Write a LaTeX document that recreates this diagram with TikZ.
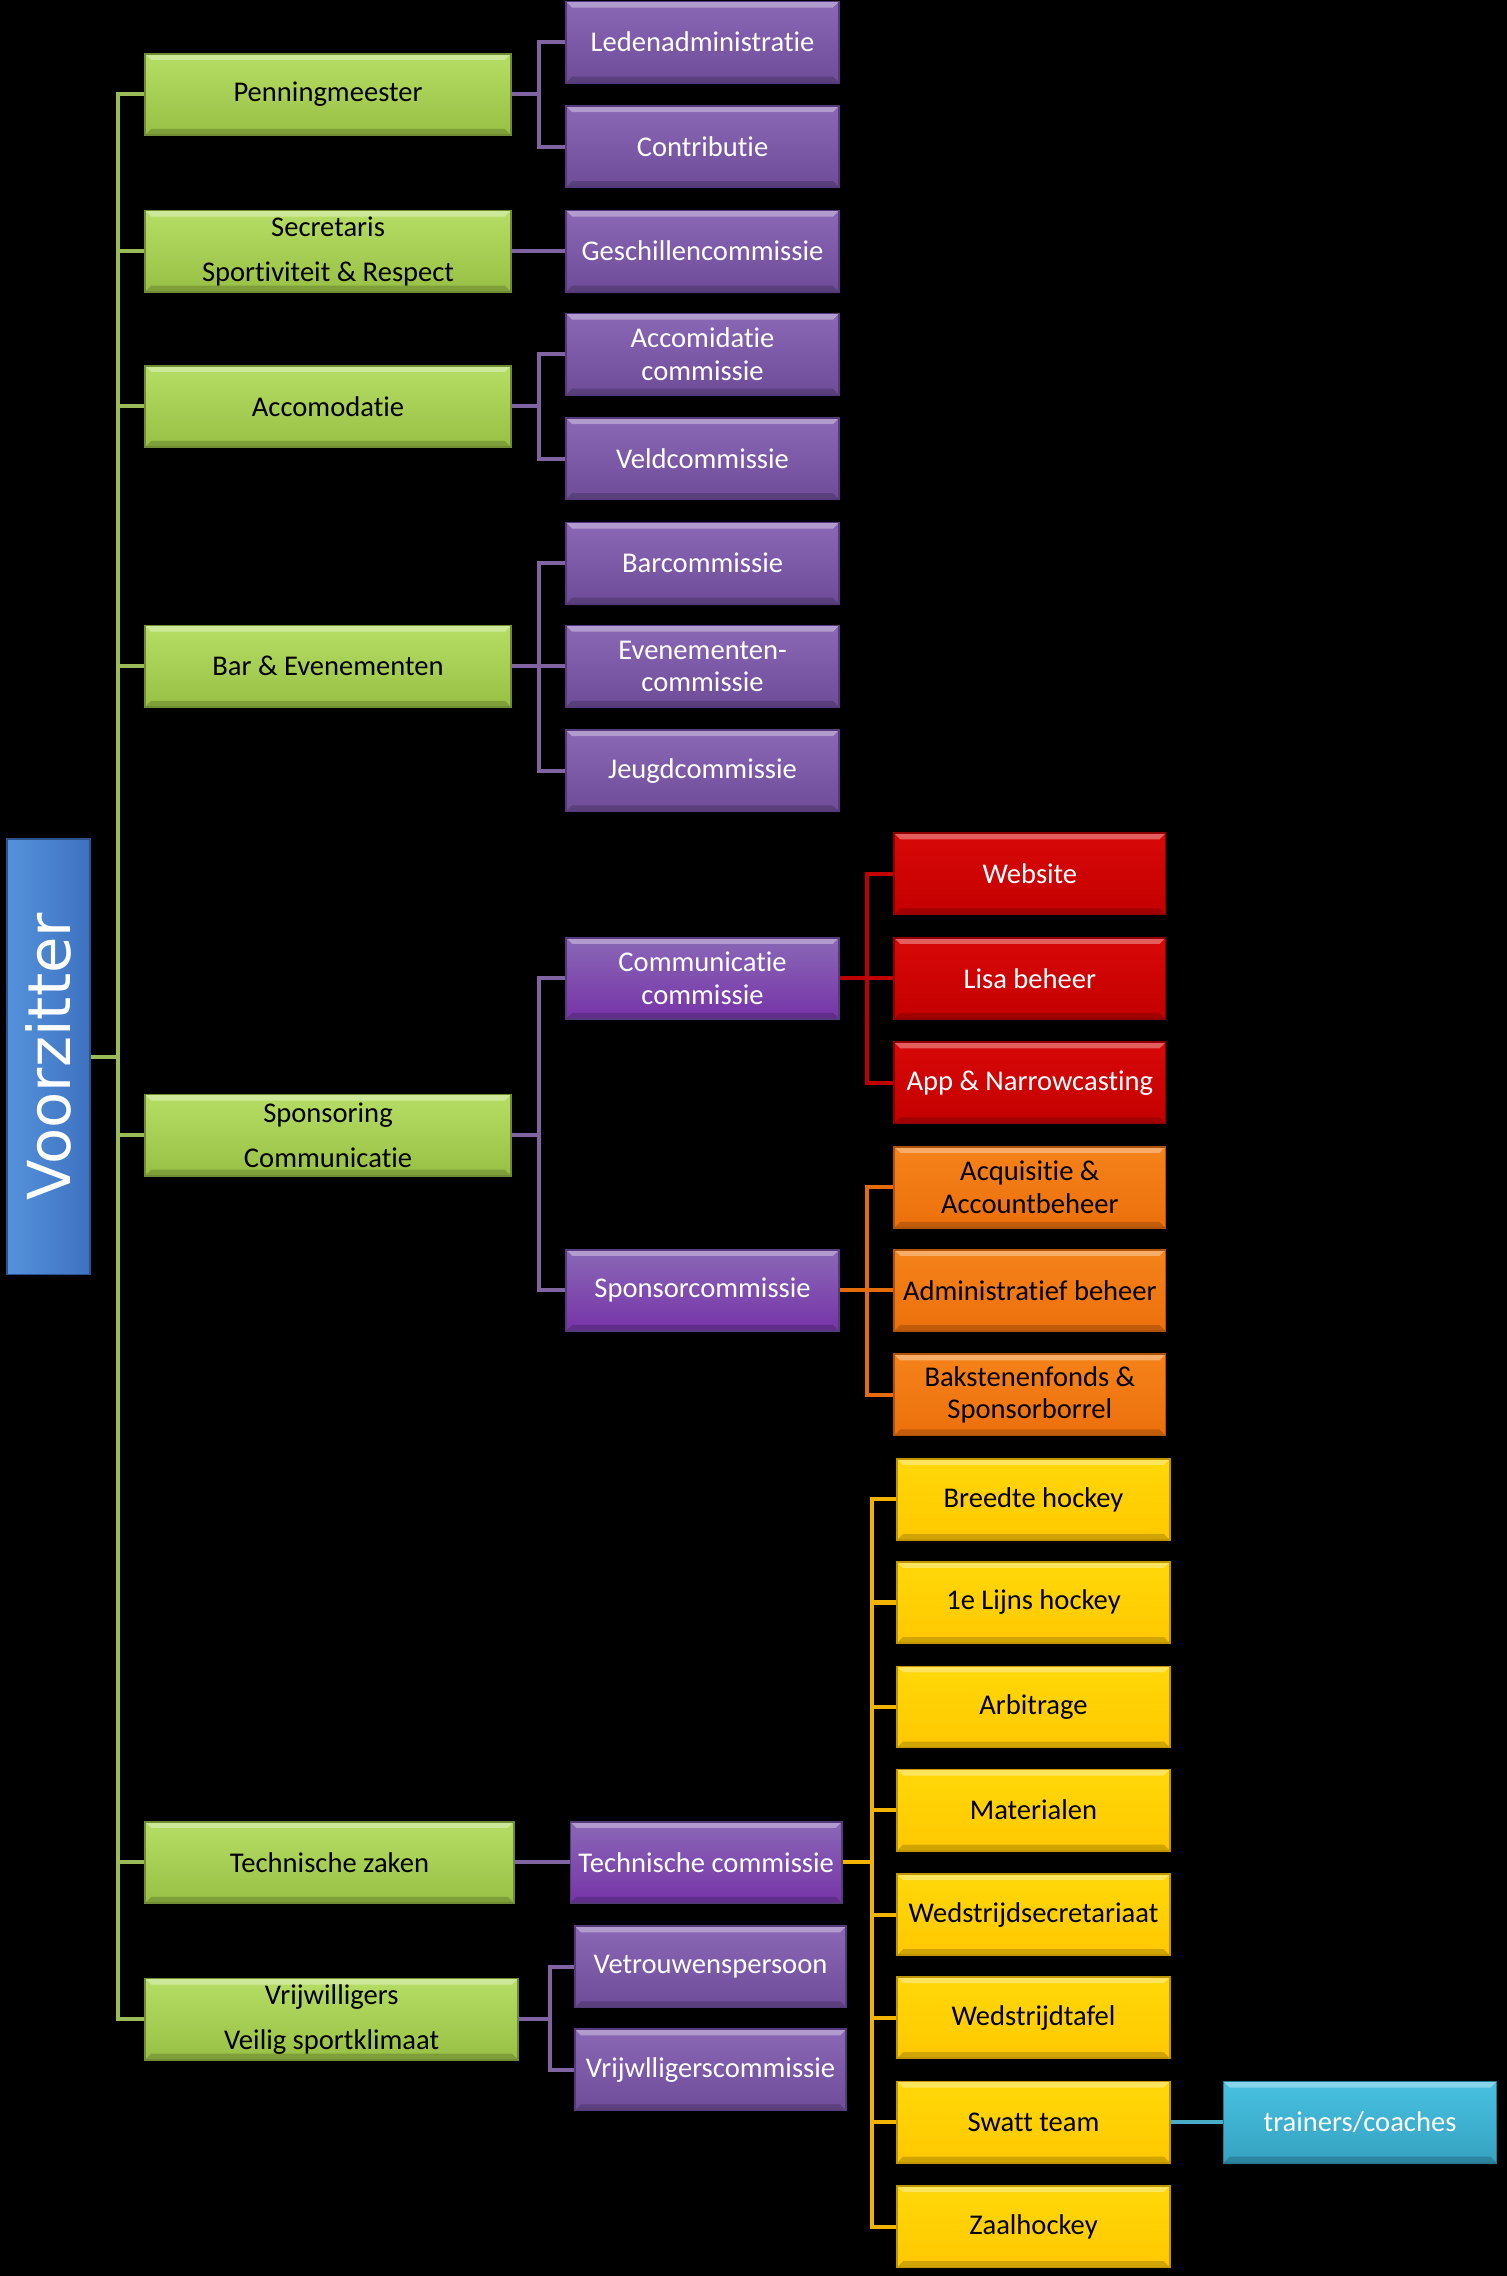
\documentclass[tikz,border=0pt]{standalone}
\usepackage{fontspec}
\setmainfont{Carlito}[Ligatures={NoCommon,NoContextual}]
\newfontfamily\chairfont{DejaVu Sans}
\usetikzlibrary{positioning}

\definecolor{greenT}{HTML}{B6DE66}
\definecolor{greenB}{HTML}{98C044}
\definecolor{greenD}{HTML}{6F8C33}
\definecolor{purpT}{HTML}{8A68B6}
\definecolor{purpB}{HTML}{6E4C98}
\definecolor{purpV}{HTML}{7634A8}
\definecolor{purpD}{HTML}{553A7A}
\definecolor{redT}{HTML}{D80808}
\definecolor{redB}{HTML}{C40000}
\definecolor{redD}{HTML}{8E0000}
\definecolor{orT}{HTML}{F5821A}
\definecolor{orB}{HTML}{EC700C}
\definecolor{orD}{HTML}{B05308}
\definecolor{yeT}{HTML}{FFD808}
\definecolor{yeB}{HTML}{FFC800}
\definecolor{yeD}{HTML}{C09600}
\definecolor{cyT}{HTML}{48C0E0}
\definecolor{cyB}{HTML}{35A2C0}
\definecolor{cyD}{HTML}{277A92}
\definecolor{blT}{HTML}{5592DC}
\definecolor{blB}{HTML}{3E72C0}
\definecolor{blD}{HTML}{2C528C}
\definecolor{gLine}{HTML}{9BBB59}
\definecolor{pLine}{HTML}{8064A2}
\definecolor{rLine}{HTML}{C00000}
\definecolor{oLine}{HTML}{E46C0A}
\definecolor{yLine}{HTML}{F2B400}
\definecolor{cLine}{HTML}{4BACC6}

\begin{document}
\begin{tikzpicture}[x=0.025cm, y=-0.025cm,
    bevel/.style={path picture={
        \fill[white, opacity=0.35] (path picture bounding box.north west) -- (path picture bounding box.north east)
            -- ++(-3pt,-3pt) -- ([shift={(3pt,-3pt)}]path picture bounding box.north west) -- cycle;
        \fill[black, opacity=0.18] (path picture bounding box.south west) -- (path picture bounding box.south east)
            -- ++(-3pt,3pt) -- ([shift={(3pt,3pt)}]path picture bounding box.south west) -- cycle;}},
    box/.style={rectangle, bevel, line width=0.8pt, inner sep=1pt, minimum height=1.4cm, align=center,
        font=\fontsize{14}{16}\selectfont},
    greenbox/.style={box, minimum width=6.3cm, top color=greenT, bottom color=greenB, draw=greenD,
        font=\fontsize{14}{22}\selectfont},
    purplebox/.style={box, minimum width=4.7cm, top color=purpT, bottom color=purpB, draw=purpD, text=white},
    purplebigbox/.style={purplebox, top color=purpT, bottom color=purpV},
    redbox/.style={box, minimum width=4.675cm, top color=redT, bottom color=redB, draw=redD, text=white},
    orangebox/.style={box, minimum width=4.675cm, top color=orT, bottom color=orB, draw=orD},
    yellowbox/.style={box, minimum width=4.7cm, top color=yeT, bottom color=yeB, draw=yeD},
    cyanbox/.style={box, minimum width=4.7cm, top color=cyT, bottom color=cyB, draw=cyD, text=white},
    gline/.style={draw=gLine, line width=2pt},
    pline/.style={draw=pLine, line width=2pt},
    rline/.style={draw=rLine, line width=2pt},
    oline/.style={draw=oLine, line width=2pt},
    yline/.style={draw=yLine, line width=2pt},
    cline/.style={draw=cLine, line width=2pt}]

    \path[fill=black, use as bounding box] (0,0) rectangle (1038,1568);

    % voorzitter
    \node[rectangle, rotate=90, minimum width=7.5cm, minimum height=1.425cm, inner sep=0pt,
        left color=blT, right color=blB, draw=blD, line width=0.8pt, text=white,
        font=\chairfont\fontsize{29}{30}\selectfont] (chair) at (33.5,728) {Voorzitter};

    % bestuur
    \node[greenbox] (pen) at (226,65) {Penningmeester};
    \node[greenbox] (sec) at (226,173) {Secretaris\\Sportiviteit \& Respect};
    \node[greenbox] (acc) at (226,280) {Accomodatie};
    \node[greenbox] (bar) at (226,459) {Bar \& Evenementen};
    \node[greenbox] (spo) at (226,782) {Sponsoring\\Communicatie};
    \node[greenbox, minimum width=6.35cm] (tec) at (227,1283) {Technische zaken};
    \node[greenbox, minimum width=6.425cm] (vrij) at (228.5,1391) {Vrijwilligers\\Veilig sportklimaat};

    % commissies
    \node[purplebox] (led) at (484,29) {Ledenadministratie};
    \node[purplebox] (con) at (484,101) {Contributie};
    \node[purplebox] (ges) at (484,173) {Geschillencommissie};
    \node[purplebox] (acom) at (484,244) {Accomidatie\\commissie};
    \node[purplebox] (veld) at (484,316) {Veldcommissie};
    \node[purplebox] (barc) at (484,388) {Barcommissie};
    \node[purplebox] (even) at (484,459) {Evenementen-\\commissie};
    \node[purplebox] (jeugd) at (484,531) {Jeugdcommissie};
    \node[purplebigbox] (comm) at (484,674) {Communicatie\\commissie};
    \node[purplebigbox] (spc) at (484,889) {Sponsorcommissie};
    \node[purplebigbox, minimum width=4.675cm] (tcom) at (486.5,1283) {Technische commissie};
    \node[purplebox, minimum width=4.675cm] (vert) at (489.5,1355) {Vetrouwenspersoon};
    \node[purplebox, minimum width=4.675cm] (vrc) at (489.5,1426) {Vrijwlligerscommissie};

    % communicatie
    \node[redbox] (web) at (709.5,602) {Website};
    \node[redbox] (lisa) at (709.5,674) {Lisa beheer};
    \node[redbox] (app) at (709.5,746) {App \& Narrowcasting};

    % sponsoring
    \node[orangebox] (acq) at (709.5,818) {Acquisitie \&\\Accountbeheer};
    \node[orangebox] (adm) at (709.5,889) {Administratief beheer};
    \node[orangebox] (bak) at (709.5,961) {Bakstenenfonds \&\\Sponsorborrel};

    % technisch
    \node[yellowbox] (bree) at (712,1033) {Breedte hockey};
    \node[yellowbox] (lijn) at (712,1104) {1e Lijns hockey};
    \node[yellowbox] (arb) at (712,1176) {Arbitrage};
    \node[yellowbox] (mat) at (712,1247) {Materialen};
    \node[yellowbox] (wsec) at (712,1319) {Wedstrijdsecretariaat};
    \node[yellowbox] (wtaf) at (712,1390) {Wedstrijdtafel};
    \node[yellowbox] (swat) at (712,1462) {Swatt team};
    \node[yellowbox] (zaal) at (712,1534) {Zaalhockey};
    \node[cyanbox] (coach) at (937,1462) {trainers/coaches};

    % lijnen
    \foreach \b in {pen,sec,acc,bar,spo,tec,vrij}
        \draw[gline] (chair.south) -- ++(19,0) |- (\b.west);
    \foreach \c in {led,con} \draw[pline] (pen.east) -- ++(19,0) |- (\c.west);
    \draw[pline] (sec.east) -- (ges.west);
    \foreach \c in {acom,veld} \draw[pline] (acc.east) -- ++(19,0) |- (\c.west);
    \foreach \c in {barc,even,jeugd} \draw[pline] (bar.east) -- ++(19,0) |- (\c.west);
    \foreach \c in {comm,spc} \draw[pline] (spo.east) -- ++(19,0) |- (\c.west);
    \draw[pline] (tec.east) -- (tcom.west);
    \foreach \c in {vert,vrc} \draw[pline] (vrij.east) -- ++(21,0) |- (\c.west);
    \foreach \c in {web,lisa,app} \draw[rline] (comm.east) -- ++(19,0) |- (\c.west);
    \foreach \c in {acq,adm,bak} \draw[oline] (spc.east) -- ++(19,0) |- (\c.west);
    \foreach \c in {bree,lijn,arb,mat,wsec,wtaf,swat,zaal} \draw[yline] (tcom.east) -- ++(20,0) |- (\c.west);
    \draw[cline] (swat.east) -- (coach.west);
\end{tikzpicture}
\end{document}
